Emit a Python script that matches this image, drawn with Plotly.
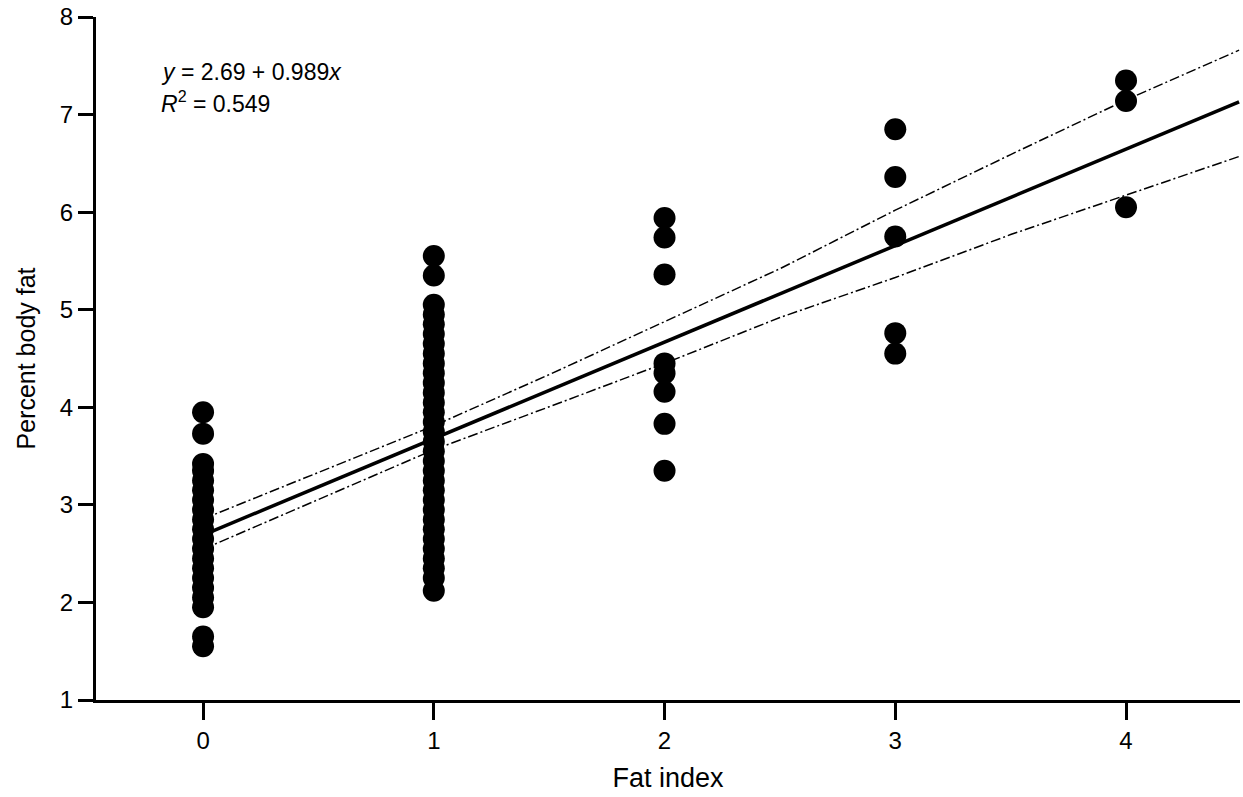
import plotly.graph_objects as go

# ---- data ----
fat_index_0 = [3.95, 3.73, 3.42, 3.35, 3.25, 3.15, 3.05, 2.95, 2.85, 2.75, 2.65, 2.55,
               2.45, 2.35, 2.25, 2.15, 2.05, 1.95, 1.65, 1.55]
fat_index_1 = [5.55, 5.35, 5.05, 4.95, 4.85, 4.75, 4.65, 4.55, 4.45, 4.35, 4.25, 4.15,
               4.05, 3.95, 3.85, 3.75, 3.65, 3.55, 3.45, 3.35, 3.25, 3.15, 3.05, 2.95,
               2.85, 2.75, 2.65, 2.55, 2.45, 2.35, 2.25, 2.12]
fat_index_2 = [5.94, 5.74, 5.36, 4.45, 4.35, 4.16, 3.83, 3.35]
fat_index_3 = [6.85, 6.36, 5.75, 4.76, 4.55]
fat_index_4 = [7.35, 7.14, 6.05]

groups = [0, 1, 2, 3, 4]
group_values = [fat_index_0, fat_index_1, fat_index_2, fat_index_3, fat_index_4]

intercept = 2.69
slope = 0.989
fit_x = [0, 4.49]

ci_x = [0, 0.5, 1.0, 1.5, 2.0, 2.5, 3.0, 3.5, 4.0, 4.49]
ci_upper = [2.855, 3.335, 3.81, 4.335, 4.88, 5.42, 6.02, 6.59, 7.15, 7.66]
ci_lower = [2.545, 3.055, 3.565, 4.005, 4.45, 4.92, 5.33, 5.77, 6.17, 6.57]

x_ticks = [0, 1, 2, 3, 4]
y_ticks = [1, 2, 3, 4, 5, 6, 7, 8]

FONT = "Liberation Sans, Arial, sans-serif"

fig = go.Figure()

pts_x, pts_y = [], []
for g, vals in zip(groups, group_values):
    pts_x += [g] * len(vals)
    pts_y += vals

fig.add_trace(go.Scatter(x=ci_x, y=ci_upper, mode="lines",
                         line=dict(color="black", width=1.5, dash="10px,3px,2px,3px"),
                         hoverinfo="skip", showlegend=False))
fig.add_trace(go.Scatter(x=ci_x, y=ci_lower, mode="lines",
                         line=dict(color="black", width=1.5, dash="10px,3px,2px,3px"),
                         hoverinfo="skip", showlegend=False))
fig.add_trace(go.Scatter(x=fit_x, y=[intercept + slope * v for v in fit_x], mode="lines",
                         line=dict(color="black", width=3.5),
                         hoverinfo="skip", showlegend=False))
fig.add_trace(go.Scatter(x=pts_x, y=pts_y, mode="markers",
                         marker=dict(color="black", size=22, line=dict(width=0)),
                         showlegend=False))

fig.add_annotation(x=0.055, y=0.920, xref="paper", yref="paper", xanchor="left", yanchor="middle",
                   text="<i>y</i> = 2.69 + 0.989<i>x</i>", showarrow=False,
                   font=dict(family=FONT, size=23, color="black"))
fig.add_annotation(x=0.055, y=0.875, xref="paper", yref="paper", xanchor="left", yanchor="middle",
                   text="<i>R</i><sup>2</sup> = 0.549", showarrow=False,
                   font=dict(family=FONT, size=23, color="black"))

fig.update_xaxes(range=[-0.464, 4.494], tickvals=x_ticks, ticktext=[str(v) for v in x_ticks],
                 showline=True, linecolor="black", linewidth=3,
                 ticks="outside", ticklen=17, tickwidth=3, tickcolor="black",
                 showgrid=False, zeroline=False,
                 tickfont=dict(family=FONT, size=24, color="black"),
                 title=dict(text="Fat index", font=dict(family=FONT, size=27, color="black"), standoff=16))
fig.update_yaxes(range=[1, 8], tickvals=y_ticks, ticktext=[str(v) for v in y_ticks],
                 showline=True, linecolor="black", linewidth=3,
                 ticks="outside", ticklen=15, tickwidth=3, tickcolor="black",
                 showgrid=False, zeroline=False,
                 tickfont=dict(family=FONT, size=24, color="black"),
                 title=dict(text="Percent body fat", font=dict(family=FONT, size=25, color="black"), standoff=18))

fig.update_layout(width=1243, height=797, autosize=False,
                  margin=dict(l=96, r=3, t=15, b=97),
                  plot_bgcolor="white", paper_bgcolor="white",
                  font=dict(family=FONT, color="black"))

fig.write_html("out.html", config={"displayModeBar": False},
               post_script="document.body.style.margin='0';document.body.style.overflow='hidden';")
